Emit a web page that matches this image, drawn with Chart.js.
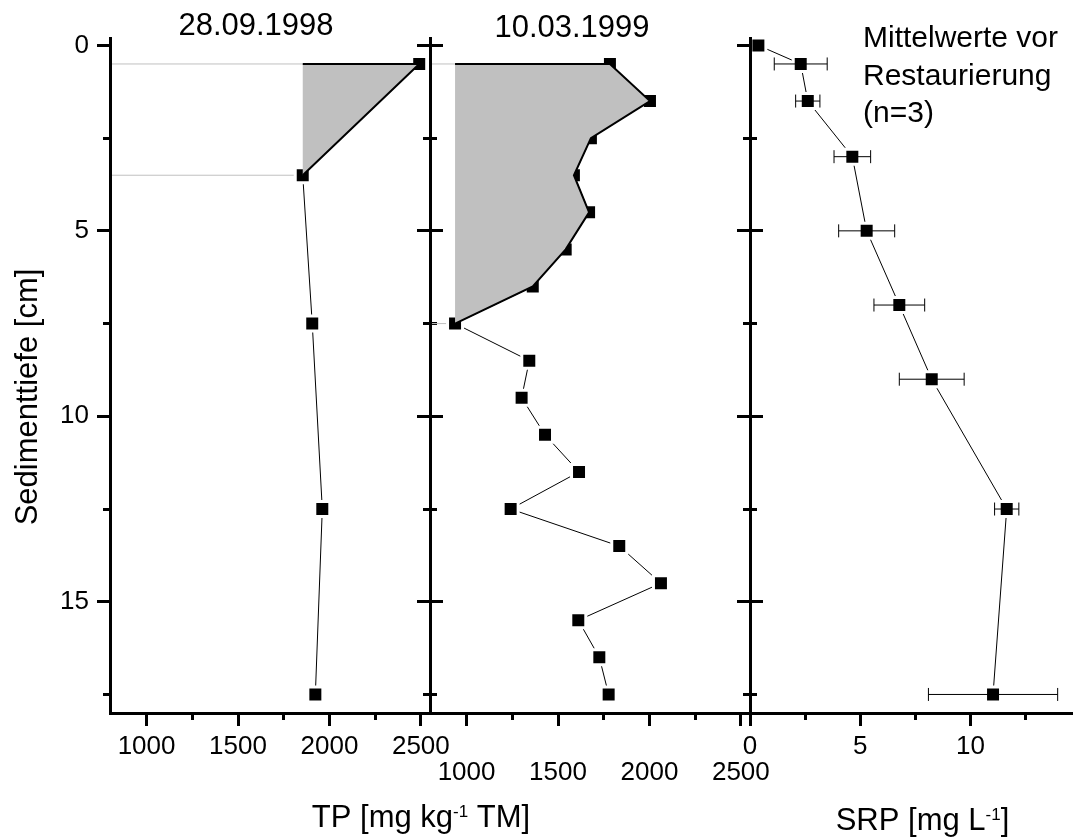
<!DOCTYPE html>
<html>
<head>
<meta charset="utf-8">
<title>TP und SRP im Sediment</title>
<script src="https://cdn.jsdelivr.net/npm/chart.js@4/dist/chart.umd.min.js"></script>
<style>
  html, body { margin: 0; padding: 0; background: #fff; }
  #wrap { position: relative; width: 1075px; height: 839px; overflow: hidden; }
  #wrap canvas { position: absolute; left: 0; top: 0; }
</style>
</head>
<body>
<div id="wrap">
  <canvas id="tp1998" width="1075" height="839"></canvas>
  <canvas id="tp1999" width="1075" height="839"></canvas>
  <canvas id="srp" width="1075" height="839"></canvas>
</div>
<script>
// ---- data ----------------------------------------------------------------
// sediment depth of each slice [cm]
const depth1998 = [0.5, 3.5, 7.5, 12.5, 17.5];
const depth1999 = [0.5, 1.5, 2.5, 3.5, 4.5, 5.5, 6.5, 7.5, 8.5, 9.5, 10.5, 11.5, 12.5, 13.5, 14.5, 15.5, 16.5, 17.5];
const depthSrp  = [0, 0.5, 1.5, 3, 5, 7, 9, 12.5, 17.5];

// total phosphorus [mg kg-1 dry matter]
const tp1998 = [2491, 1854, 1906, 1961, 1923];
const tp1999 = [1784, 2003, 1680, 1587, 1670, 1542, 1362, 937, 1343, 1301, 1429, 1615, 1241, 1835, 2063, 1611, 1726, 1777];

// pore-water SRP [mg L-1], mean and standard deviation (n = 3)
const srpMean = [0.38, 2.30, 2.62, 4.64, 5.29, 6.77, 8.24, 11.64, 11.02];
const srpSd   = [0, 1.20, 0.55, 0.83, 1.27, 1.15, 1.47, 0.55, 2.93];

// number of upper slices forming the shaded P-rich layer
const shaded1998 = 2;
const shaded1999 = 8;

// axis ranges and tick values
const depthRange = [-0.2, 18];
const tpRange = [800, 2550];
const srpRange = [0, 14.6];
const depthMajor = [0, 5, 10, 15];
const depthMinor = [0, 2.5, 5, 7.5, 10, 12.5, 15, 17.5];
const tpMajor = [1000, 1500, 2000, 2500];
const tpMinor = [1000, 1250, 1500, 1750, 2000, 2250, 2500];
const srpMajor = [0, 5, 10];
const srpMinor = [0, 2.5, 5, 7.5, 10, 12.5];

// ---- styling helpers -----------------------------------------------------
const FONT = "'Liberation Sans', Arial, Helvetica, sans-serif";
const INK = '#000';
const SHADE = '#c0c0c0';
const W = 1075, H = 839;

function axis(id, position, range, ticks, tickLength, opts = {}) {
  const vertical = position === 'left' || position === 'right';
  return {
    type: 'linear',
    axis: vertical ? 'y' : 'x',
    position,
    min: range[0],
    max: range[1],
    bounds: 'data',
    reverse: vertical,
    weight: opts.weight || 0,
    afterBuildTicks: s => { s.ticks = ticks.map(v => ({ value: v })); },
    afterFit: s => { if (vertical) s.width = opts.size || 0; else s.height = opts.size || 0; },
    grid: { drawOnChartArea: false, drawTicks: true, tickLength, tickWidth: 3, tickColor: INK, z: 1 },
    border: { display: true, width: 3, color: INK, z: 1 },
    ticks: {
      display: !!opts.labels,
      padding: opts.pad || 0,
      color: INK,
      font: { family: FONT, size: 26 },
      maxRotation: 0,
      minRotation: 0,
      autoSkip: false,
      callback: v => String(v)
    }
  };
}

const points = (xs, ys) => xs.map((x, i) => ({ x, y: ys[i] }));

const markerStyle = {
  showLine: false,
  pointStyle: 'rect',
  pointRadius: 10.6,
  pointHoverRadius: 10.6,
  pointBackgroundColor: INK,
  pointBorderColor: '#fff',
  pointBorderWidth: 3
};

// profile with a shaded upper layer, drawn between the layer's base value and the curve
function tpProfile(depths, values, nShaded) {
  const pts = points(values, depths);
  const base = values[nShaded - 1];
  const top = depths[0];
  const bottom = depths[nShaded - 1];
  const layer = [{ x: base, y: top }].concat(pts.slice(0, nShaded));
  return [
    { data: [{ x: tpRange[0], y: top }, { x: base, y: top }], borderColor: SHADE, borderWidth: 1, order: 6 },
    { data: [{ x: tpRange[0], y: bottom }, { x: base, y: bottom }], borderColor: SHADE, borderWidth: 1, order: 6 },
    { data: pts, borderColor: INK, borderWidth: 1, order: 5 },
    Object.assign({ data: pts, order: 4 }, markerStyle),
    { data: layer, fill: 'shape', backgroundColor: SHADE, borderColor: 'rgba(0,0,0,0)', borderWidth: 0, order: 3 },
    { data: layer, borderColor: INK, borderWidth: 2, order: 2 }
  ];
}

function srpProfile() {
  const pts = points(srpMean, depthSrp);
  const sets = [
    { data: pts, borderColor: INK, borderWidth: 1, order: 5 },
    Object.assign({ data: pts, order: 4 }, markerStyle)
  ];
  srpMean.forEach((m, i) => {
    if (!srpSd[i]) return;
    sets.push({
      data: [{ x: m - srpSd[i], y: depthSrp[i] }, { x: m + srpSd[i], y: depthSrp[i] }],
      borderColor: INK,
      borderWidth: 1,
      pointStyle: 'line',
      pointRotation: 90,
      pointRadius: 6.5,
      pointHoverRadius: 6.5,
      pointBorderColor: INK,
      pointBorderWidth: 1,
      order: 1
    });
  });
  return sets;
}

// text runs with optional superscripts
function drawRun(ctx, run) {
  const size = run.size;
  const fontFor = p => (p.sup ? Math.round(size * 0.55) : size) + 'px ' + FONT;
  let total = 0;
  const widths = run.parts.map(p => {
    ctx.font = fontFor(p);
    const w = ctx.measureText(p.text).width;
    total += w;
    return w;
  });
  ctx.save();
  ctx.translate(run.x, run.y);
  if (run.rotate) ctx.rotate(-Math.PI / 2);
  let cx = run.align === 'left' ? 0 : -total / 2;
  run.parts.forEach((p, i) => {
    ctx.font = fontFor(p);
    ctx.fillText(p.text, cx, p.sup ? -size * 0.32 : 0);
    cx += widths[i];
  });
  ctx.restore();
}

function textPlugin(runs) {
  return {
    id: 'texts',
    afterDraw(chart) {
      const ctx = chart.ctx;
      ctx.save();
      ctx.fillStyle = INK;
      ctx.textBaseline = 'alphabetic';
      runs.forEach(r => drawRun(ctx, r));
      ctx.restore();
    }
  };
}

function baseOptions(padding, scales) {
  return {
    responsive: false,
    animation: false,
    devicePixelRatio: 1,
    events: [],
    layout: { autoPadding: false, padding },
    plugins: { legend: { display: false }, tooltip: { enabled: false }, title: { display: false } },
    datasets: {
      scatter: { showLine: true, pointRadius: 0, pointHoverRadius: 0, pointHitRadius: 0, fill: false, tension: 0 }
    },
    scales
  };
}

// ---- panel 1: TP 28.09.1998 (with the depth axis) -------------------------
new Chart(document.getElementById('tp1998'), {
  type: 'scatter',
  data: { datasets: tpProfile(depth1998, tp1998, shaded1998) },
  options: baseOptions(
    { left: 50, right: W - 470, top: 38, bottom: H - 713 - 60 },
    {
      x:  axis('x',  'bottom', tpRange, tpMajor, 13, { size: 60, weight: 1, labels: true, pad: 5 }),
      xm: axis('xm', 'bottom', tpRange, tpMinor, 7),
      y:  axis('y',  'left', depthRange, depthMajor, 13, { size: 60, weight: 1, labels: true, pad: 8 }),
      ym: axis('ym', 'left', depthRange, depthMinor, 7),
      yr: axis('yr', 'right', depthRange, depthMajor, 13, { size: 40, weight: 1 }),
      yrm: axis('yrm', 'right', depthRange, depthMinor, 7)
    }
  ),
  plugins: [textPlugin([
    { parts: [{ text: '28.09.1998' }], x: 256, y: 35, size: 31 },
    { parts: [{ text: 'Sedimenttiefe [cm]' }], x: 37, y: 397, size: 31, rotate: true },
    { parts: [{ text: 'TP [mg kg' }, { text: '-1', sup: true }, { text: ' TM]' }], x: 421, y: 826.5, size: 31 }
  ])]
});

// ---- panel 2: TP 10.03.1999 -----------------------------------------------
new Chart(document.getElementById('tp1999'), {
  type: 'scatter',
  data: { datasets: tpProfile(depth1999, tp1999, shaded1999) },
  options: baseOptions(
    { left: 390, right: W - 790, top: 38, bottom: H - 713 - 90 },
    {
      x:  axis('x',  'bottom', tpRange, tpMajor, 13, { size: 90, weight: 1, labels: true, pad: 31 }),
      xm: axis('xm', 'bottom', tpRange, tpMinor, 7),
      y:  axis('y',  'left', depthRange, depthMajor, 13, { size: 40, weight: 1 }),
      ym: axis('ym', 'left', depthRange, depthMinor, 7),
      yr: axis('yr', 'right', depthRange, depthMajor, 13, { size: 40, weight: 1 }),
      yrm: axis('yrm', 'right', depthRange, depthMinor, 7)
    }
  ),
  plugins: [textPlugin([
    { parts: [{ text: '10.03.1999' }], x: 572, y: 36.5, size: 31 }
  ])]
});

// ---- panel 3: SRP, means before restoration --------------------------------
new Chart(document.getElementById('srp'), {
  type: 'scatter',
  data: { datasets: srpProfile() },
  options: baseOptions(
    { left: 710, right: W - 1072, top: 38, bottom: H - 713 - 60 },
    {
      x:  axis('x',  'bottom', srpRange, srpMajor, 13, { size: 60, weight: 1, labels: true, pad: 5 }),
      xm: axis('xm', 'bottom', srpRange, srpMinor, 7),
      y:  axis('y',  'left', depthRange, depthMajor, 13, { size: 40, weight: 1 }),
      ym: axis('ym', 'left', depthRange, depthMinor, 7)
    }
  ),
  plugins: [textPlugin([
    { parts: [{ text: 'Mittelwerte vor' }], x: 863, y: 46.5, size: 30, align: 'left' },
    { parts: [{ text: 'Restaurierung' }], x: 863, y: 84.5, size: 30, align: 'left' },
    { parts: [{ text: '(n=3)' }], x: 863, y: 122, size: 30, align: 'left' },
    { parts: [{ text: 'SRP [mg L' }, { text: '-1', sup: true }, { text: ']' }], x: 922.5, y: 830, size: 31 }
  ])]
});
</script>
</body>
</html>
